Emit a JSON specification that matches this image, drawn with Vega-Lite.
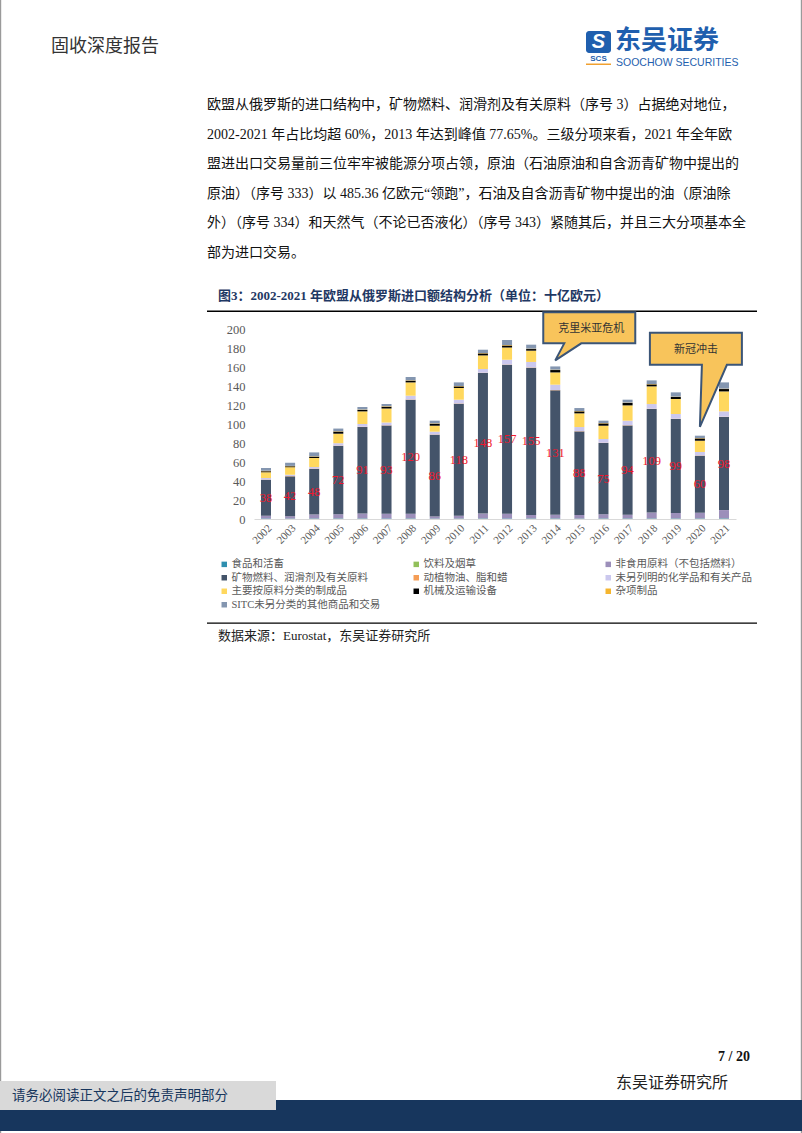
{
  "$schema": "https://vega.github.io/schema/vega-lite/v6.json",
  "width": 482,
  "height": 190,
  "autosize": {"type": "none"},
  "padding": {"left": 254, "top": 329, "right": 66, "bottom": 614},
  "background": "white",
  "config": {
    "view": {"stroke": null},
    "font": "Liberation Serif, Noto Sans CJK SC",
    "axis": {"grid": false, "ticks": false, "labelColor": "#595959", "title": null},
    "axisX": {"labelAngle": -45, "labelFont": "Liberation Serif", "labelFontSize": 11, "domainColor": "#D9D9D9", "domainWidth": 1, "labelPadding": 3},
    "axisY": {"labelOverlap": false, "labelSeparation": 0, "domain": false, "labelFont": "Liberation Serif", "labelFontSize": 12.5, "labelPadding": 9}
  },
  "datasets": {
    "trade": [
      {"年份": "2002", "c0": 0.4, "c1": 0.1, "c2": 2.9, "c3": 38, "c4": 0.3, "c5": 1.5, "c6": 5.9, "c7": 1.2, "c8": 0.4, "c9": 2.9},
      {"年份": "2003", "c0": 0.4, "c1": 0.1, "c2": 2.4, "c3": 42, "c4": 0.3, "c5": 1.4, "c6": 7.9, "c7": 1.0, "c8": 0.4, "c9": 3.3},
      {"年份": "2004", "c0": 0.5, "c1": 0.1, "c2": 4.2, "c3": 48, "c4": 0.3, "c5": 1.6, "c6": 9.5, "c7": 1.4, "c8": 0.4, "c9": 4.1},
      {"年份": "2005", "c0": 0.5, "c1": 0.1, "c2": 4.4, "c3": 72, "c4": 0.3, "c5": 2.5, "c6": 10.0, "c7": 2.2, "c8": 0.4, "c9": 2.8},
      {"年份": "2006", "c0": 0.5, "c1": 0.1, "c2": 5.2, "c3": 91, "c4": 0.3, "c5": 2.9, "c6": 13.3, "c7": 1.5, "c8": 0.4, "c9": 2.7},
      {"年份": "2007", "c0": 0.5, "c1": 0.1, "c2": 4.9, "c3": 93, "c4": 0.3, "c5": 2.9, "c6": 14.7, "c7": 1.8, "c8": 0.4, "c9": 2.4},
      {"年份": "2008", "c0": 0.5, "c1": 0.1, "c2": 5.0, "c3": 120, "c4": 0.3, "c5": 3.9, "c6": 14.0, "c7": 1.8, "c8": 0.4, "c9": 3.5},
      {"年份": "2009", "c0": 0.4, "c1": 0.1, "c2": 2.2, "c3": 86, "c4": 0.3, "c5": 2.9, "c6": 6.3, "c7": 2.1, "c8": 0.4, "c9": 2.8},
      {"年份": "2010", "c0": 0.4, "c1": 0.1, "c2": 2.9, "c3": 118, "c4": 0.3, "c5": 3.9, "c6": 12.3, "c7": 1.7, "c8": 0.4, "c9": 3.8},
      {"年份": "2011", "c0": 0.5, "c1": 0.1, "c2": 5.1, "c3": 148, "c4": 0.3, "c5": 3.9, "c6": 14.3, "c7": 2.1, "c8": 0.4, "c9": 3.5},
      {"年份": "2012", "c0": 0.5, "c1": 0.1, "c2": 4.8, "c3": 157, "c4": 0.3, "c5": 5.0, "c6": 12.9, "c7": 2.1, "c8": 0.4, "c9": 5.3},
      {"年份": "2013", "c0": 0.5, "c1": 0.1, "c2": 3.7, "c3": 155, "c4": 0.3, "c5": 5.7, "c6": 11.9, "c7": 1.7, "c8": 0.4, "c9": 4.2},
      {"年份": "2014", "c0": 0.5, "c1": 0.1, "c2": 3.8, "c3": 131, "c4": 0.3, "c5": 5.7, "c6": 12.9, "c7": 2.5, "c8": 0.4, "c9": 3.4},
      {"年份": "2015", "c0": 0.4, "c1": 0.1, "c2": 3.7, "c3": 88, "c4": 0.3, "c5": 4.3, "c6": 14.4, "c7": 2.1, "c8": 0.4, "c9": 3.1},
      {"年份": "2016", "c0": 0.5, "c1": 0.1, "c2": 4.4, "c3": 75, "c4": 0.3, "c5": 3.9, "c6": 14.0, "c7": 2.4, "c8": 0.4, "c9": 2.5},
      {"年份": "2017", "c0": 0.5, "c1": 0.1, "c2": 3.9, "c3": 94, "c4": 0.3, "c5": 4.7, "c6": 16.1, "c7": 2.5, "c8": 0.4, "c9": 3.1},
      {"年份": "2018", "c0": 0.5, "c1": 0.1, "c2": 6.2, "c3": 109, "c4": 0.3, "c5": 4.9, "c6": 18.6, "c7": 2.1, "c8": 0.4, "c9": 3.8},
      {"年份": "2019", "c0": 0.5, "c1": 0.1, "c2": 5.7, "c3": 99, "c4": 0.3, "c5": 4.9, "c6": 15.8, "c7": 2.1, "c8": 0.4, "c9": 4.5},
      {"年份": "2020", "c0": 0.5, "c1": 0.1, "c2": 6.0, "c3": 60, "c4": 0.3, "c5": 3.6, "c6": 11.9, "c7": 2.4, "c8": 0.4, "c9": 2.5},
      {"年份": "2021", "c0": 0.6, "c1": 0.1, "c2": 8.7, "c3": 98, "c4": 0.3, "c5": 5.6, "c6": 21.0, "c7": 2.5, "c8": 0.4, "c9": 6.6}
    ],
    "categories": [
      {"key": "c0", "类别": "食品和活畜"},
      {"key": "c1", "类别": "饮料及烟草"},
      {"key": "c2", "类别": "非食用原料（不包括燃料）"},
      {"key": "c3", "类别": "矿物燃料、润滑剂及有关原料"},
      {"key": "c4", "类别": "动植物油、脂和蜡"},
      {"key": "c5", "类别": "未另列明的化学品和有关产品"},
      {"key": "c6", "类别": "主要按原料分类的制成品"},
      {"key": "c7", "类别": "机械及运输设备"},
      {"key": "c8", "类别": "杂项制品"},
      {"key": "c9", "类别": "SITC未另分类的其他商品和交易"}
    ]
  },
  "layer": [
    {"data": {"values": [{}]}, "mark": {"type": "rect", "x": -254, "x2": -252.8, "y": -329, "y2": 804, "fill": "#9a9a9a"}, "encoding": {}},
    {"data": {"values": [{}]}, "mark": {"type": "rect", "x": 546.8, "x2": 548, "y": -329, "y2": 804, "fill": "#9a9a9a"}, "encoding": {}},
    {"data": {"values": [{}]}, "mark": {"type": "rect", "x": -254, "x2": 548, "y": 771, "y2": 802, "fill": "#17365D"}, "encoding": {}},
    {"data": {"values": [{}]}, "mark": {"type": "rect", "x": -254, "x2": 22, "y": 752, "y2": 781, "fill": "#D9D9D9"}, "encoding": {}},
    {"data": {"values": [{}]}, "mark": {"type": "rect", "x": 332, "x2": 357, "y": -298, "y2": -276, "fill": "#1F5FAE", "cornerRadius": 3}, "encoding": {}},
    {"data": {"values": [{}]}, "mark": {"type": "rect", "x": 332, "x2": 357, "y": -265.5, "y2": -264, "fill": "#F0A030"}, "encoding": {}},
    {"data": {"values": [{}]}, "mark": {"type": "rect", "x": -47, "x2": 503, "y": -18.5, "y2": -17, "fill": "#000000"}, "encoding": {}},
    {"data": {"values": [{}]}, "mark": {"type": "rect", "x": -47, "x2": 503, "y": 293.5, "y2": 294.8, "fill": "#000000"}, "encoding": {}},
    {
      "data": {"name": "trade"},
      "transform": [
        {"fold": ["c0", "c1", "c2", "c3", "c4", "c5", "c6", "c7", "c8", "c9"], "as": ["key", "数值"]},
        {"lookup": "key", "from": {"data": {"name": "categories"}, "key": "key", "fields": ["类别"]}}
      ],
      "mark": {"type": "bar"},
      "encoding": {
        "x": {
          "field": "年份", "type": "nominal",
          "scale": {"paddingInner": 0.585, "paddingOuter": 0.29},
          "axis": {"title": null}
        },
        "y": {
          "field": "数值", "type": "quantitative",
          "scale": {"domain": [0, 200]},
          "axis": {"title": null, "values": [0, 20, 40, 60, 80, 100, 120, 140, 160, 180, 200], "labelOverlap": false}
        },
        "color": {
          "field": "类别", "type": "nominal",
          "scale": {
            "domain": ["食品和活畜", "饮料及烟草", "非食用原料（不包括燃料）", "矿物燃料、润滑剂及有关原料", "动植物油、脂和蜡", "未另列明的化学品和有关产品", "主要按原料分类的制成品", "机械及运输设备", "杂项制品", "SITC未另分类的其他商品和交易"],
            "range": ["#2E8FAF", "#92C05A", "#9C8FBA", "#44546A", "#F59D56", "#CBC8EE", "#FFD85E", "#000000", "#F5B52E", "#8496B0"]
          },
          "legend": {
            "orient": "none", "legendX": -35, "legendY": 230, "direction": "horizontal", "columns": 3, "title": null,
            "symbolType": "square", "symbolSize": 30, "symbolStrokeWidth": 0,
            "labelFont": "Liberation Serif, Noto Sans CJK SC", "labelFontSize": 10.5, "labelColor": "#595959",
            "labelLimit": 300, "gridAlign": "all", "columnPadding": 30, "rowPadding": 2.5, "labelOffset": 2
          }
        },
        "order": {"field": "key", "type": "ordinal"}
      }
    },
    {
      "data": {"name": "trade"},
      "transform": [
        {"fold": ["c0", "c1", "c2", "c3", "c4", "c5", "c6", "c7", "c8", "c9"], "as": ["key", "数值"]},
        {"stack": "数值", "groupby": ["年份"], "sort": [{"field": "key", "order": "ascending"}], "as": ["v0", "v1"]},
        {"filter": "datum.key === 'c3'"},
        {"fold": ["v0", "v1"], "as": ["edge", "pos"]}
      ],
      "mark": {"type": "text", "font": "Liberation Serif", "fontSize": 12.5, "fill": "#F0192D", "baseline": "middle"},
      "encoding": {
        "x": {"field": "年份", "type": "nominal", "axis": {"title": null}},
        "y": {"aggregate": "mean", "field": "pos", "type": "quantitative", "axis": {"title": null, "values": [0, 20, 40, 60, 80, 100, 120, 140, 160, 180, 200], "labelOverlap": false}},
        "text": {"field": "数值", "type": "quantitative", "format": "d"}
      }
    },
    {
      "data": {"values": [{"年份": "2014", "数值": 167, "事件": "克里米亚危机"}]},
      "mark": {"type": "point", "shape": "M0,0 L9,-17 L-12,-17 L-12,-48 L80,-48 L80,-17 L26,-17 Z", "size": 4, "filled": true, "fill": "#F8C45B", "stroke": "#3B5577", "strokeWidth": 2, "opacity": 1},
      "encoding": {"x": {"field": "年份", "type": "nominal", "axis": {"title": null}}, "y": {"field": "数值", "type": "quantitative", "axis": {"title": null, "values": [0, 20, 40, 60, 80, 100, 120, 140, 160, 180, 200], "labelOverlap": false}}}
    },
    {
      "data": {"values": [{"年份": "2014", "数值": 167, "事件": "克里米亚危机"}]},
      "mark": {"type": "text", "dx": 36, "dy": -31, "fontSize": 11, "fill": "#333333", "font": "Noto Sans CJK SC", "baseline": "middle"},
      "encoding": {"x": {"field": "年份", "type": "nominal", "axis": {"title": null}}, "y": {"field": "数值", "type": "quantitative", "axis": {"title": null, "values": [0, 20, 40, 60, 80, 100, 120, 140, 160, 180, 200], "labelOverlap": false}}, "text": {"field": "事件"}}
    },
    {
      "data": {"values": [{"年份": "2020", "数值": 97, "事件": "新冠冲击"}]},
      "mark": {"type": "point", "shape": "M0,0 L2,-62 L-50,-62 L-50,-94 L42,-94 L42,-62 L27,-62 Z", "size": 4, "filled": true, "fill": "#F8C45B", "stroke": "#3B5577", "strokeWidth": 2, "opacity": 1},
      "encoding": {"x": {"field": "年份", "type": "nominal", "axis": {"title": null}}, "y": {"field": "数值", "type": "quantitative", "axis": {"title": null, "values": [0, 20, 40, 60, 80, 100, 120, 140, 160, 180, 200], "labelOverlap": false}}}
    },
    {
      "data": {"values": [{"年份": "2020", "数值": 97, "事件": "新冠冲击"}]},
      "mark": {"type": "text", "dx": -4, "dy": -77, "fontSize": 11, "fill": "#333333", "font": "Noto Sans CJK SC", "baseline": "middle"},
      "encoding": {"x": {"field": "年份", "type": "nominal", "axis": {"title": null}}, "y": {"field": "数值", "type": "quantitative", "axis": {"title": null, "values": [0, 20, 40, 60, 80, 100, 120, 140, 160, 180, 200], "labelOverlap": false}}, "text": {"field": "事件"}}
    },
    {"data": {"values": [{}]}, "mark": {"type": "text", "x": -203, "y": -282, "align": "left", "baseline": "middle", "fontSize": 18, "fill": "#333333", "font": "Noto Sans CJK SC", "text": "固收深度报告"}, "encoding": {}},
    {"data": {"values": [{}]}, "mark": {"type": "text", "x": 361, "y": -288, "align": "left", "baseline": "middle", "fontSize": 26, "fontWeight": "bold", "fill": "#1F5FAE", "font": "Noto Sans CJK SC", "text": "东吴证券"}, "encoding": {}},
    {"data": {"values": [{}]}, "mark": {"type": "text", "x": 362, "y": -266, "align": "left", "baseline": "middle", "fontSize": 10.5, "fill": "#1F5FAE", "font": "Liberation Sans", "text": "SOOCHOW SECURITIES"}, "encoding": {}},
    {"data": {"values": [{}]}, "mark": {"type": "text", "x": 344.5, "y": -270, "align": "center", "baseline": "middle", "fontSize": 8, "fontWeight": "bold", "fill": "#1F5FAE", "font": "Liberation Sans", "text": "SCS"}, "encoding": {}},
    {"data": {"values": [{}]}, "mark": {"type": "text", "x": 344.5, "y": -287, "align": "center", "baseline": "middle", "fontSize": 20, "fontWeight": "bold", "fontStyle": "italic", "fill": "#FFFFFF", "font": "Liberation Sans", "text": "S"}, "encoding": {}},
    {
      "data": {"values": [{}]},
      "mark": {
        "type": "text", "x": -47, "y": -220, "align": "left", "baseline": "alphabetic", "fontSize": 14, "lineHeight": 29.6, "fill": "#111111",
        "font": "Liberation Serif, Noto Sans CJK SC",
        "text": [
          "欧盟从俄罗斯的进口结构中，矿物燃料、润滑剂及有关原料（序号 3）占据绝对地位，",
          "2002-2021 年占比均超 60%，2013 年达到峰值 77.65%。三级分项来看，2021 年全年欧",
          "盟进出口交易量前三位牢牢被能源分项占领，原油（石油原油和自含沥青矿物中提出的",
          "原油）（序号 333）以 485.36 亿欧元“领跑”，石油及自含沥青矿物中提出的油（原油除",
          "外）（序号 334）和天然气（不论已否液化）（序号 343）紧随其后，并且三大分项基本全",
          "部为进口交易。"
        ]
      },
      "encoding": {}
    },
    {"data": {"values": [{}]}, "mark": {"type": "text", "x": -36, "y": -33, "align": "left", "baseline": "middle", "fontSize": 13, "fontWeight": "bold", "fill": "#1F3864", "font": "Liberation Serif, Noto Sans CJK SC", "text": "图3：2002-2021 年欧盟从俄罗斯进口额结构分析（单位：十亿欧元）"}, "encoding": {}},
    {"data": {"values": [{}]}, "mark": {"type": "text", "x": -36, "y": 307, "align": "left", "baseline": "middle", "fontSize": 13, "fill": "#222222", "font": "Liberation Serif, Noto Sans CJK SC", "text": "数据来源：Eurostat，东吴证券研究所"}, "encoding": {}},
    {"data": {"values": [{}]}, "mark": {"type": "text", "x": 496, "y": 728, "align": "right", "baseline": "middle", "fontSize": 14, "fontWeight": "bold", "fill": "#111111", "font": "Liberation Serif", "text": "7 / 20"}, "encoding": {}},
    {"data": {"values": [{}]}, "mark": {"type": "text", "x": 418, "y": 754, "align": "center", "baseline": "middle", "fontSize": 16, "fill": "#222222", "font": "Noto Sans CJK SC", "text": "东吴证券研究所"}, "encoding": {}},
    {"data": {"values": [{}]}, "mark": {"type": "text", "x": -242, "y": 767, "align": "left", "baseline": "middle", "fontSize": 13.5, "fill": "#17365D", "font": "Noto Sans CJK SC", "text": "请务必阅读正文之后的免责声明部分"}, "encoding": {}}
  ]
}
